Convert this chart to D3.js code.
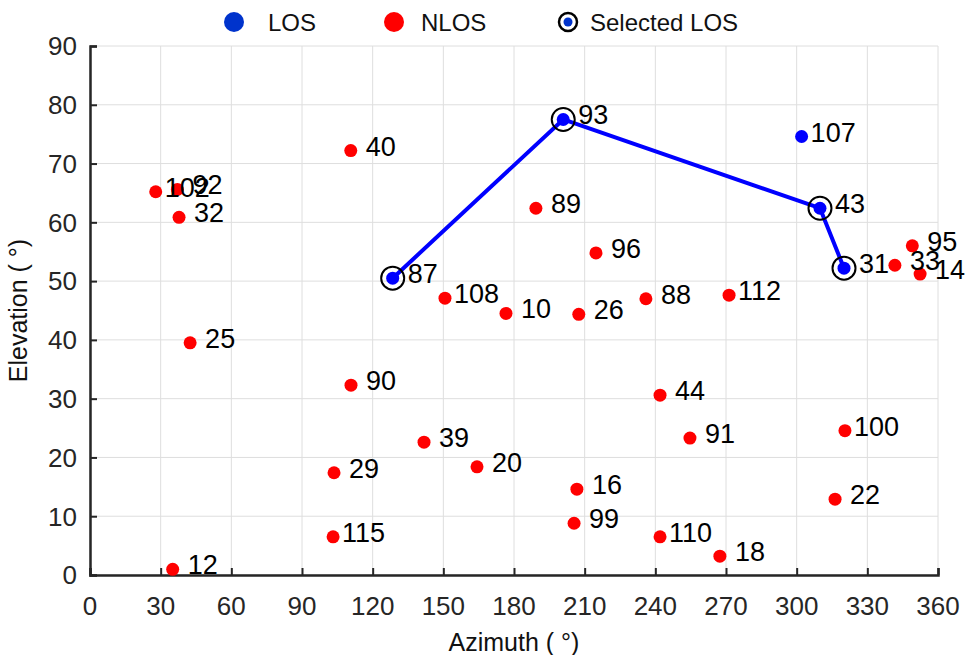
<!DOCTYPE html>
<html>
<head>
<meta charset="utf-8">
<script src="https://cdn.jsdelivr.net/npm/d3@7"></script>
<style>
  html, body { margin: 0; padding: 0; background: #fff; }
  svg { display: block; }
</style>
</head>
<body>
<svg id="chart" width="966" height="655"></svg>
<script>
// Satellite sky positions: azimuth / elevation in degrees
const losIds = [87, 93, 43, 31, 107];
const losAz  = [128.5, 200.9, 309.9, 320.1, 302.1];
const losEl  = [50.5, 77.5, 62.4, 52.2, 74.6];

const nlosIds = [102, 92, 32, 25, 12, 40, 90, 29, 115, 108, 39, 20, 10, 89, 96, 26, 16, 99,
                 88, 44, 91, 110, 18, 112, 100, 22, 33, 95, 14];
const nlosAz  = [27.9, 37.1, 37.8, 42.5, 35.1, 110.7, 110.8, 103.6, 103.2, 150.7, 141.8, 164.3,
                 176.6, 189.3, 214.8, 207.5, 206.7, 205.5, 236.0, 242.0, 254.7, 242.0, 267.4,
                 271.3, 320.5, 316.3, 341.7, 349.1, 352.4];
const nlosEl  = [65.2, 65.6, 60.85, 39.5, 0.97, 72.2, 32.3, 17.4, 6.5, 47.1, 22.6, 18.4,
                 44.5, 62.4, 54.8, 44.35, 14.6, 8.8, 47.0, 30.6, 23.3, 6.5, 3.2,
                 47.6, 24.55, 12.9, 52.7, 56.0, 51.2];

// Selected LOS satellites, in path order
const selectedIds = [87, 93, 43, 31];

const xTicks = d3.range(0, 361, 30);
const yTicks = d3.range(0, 91, 10);

const legendLabels = ["LOS", "NLOS", "Selected LOS"];

const svg = d3.select("#chart");
const x = d3.scaleLinear().domain([0, 360]).range([90, 938]);
const y = d3.scaleLinear().domain([0, 90]).range([575, 46]);

const axisColor = "#262626";
const gridColor = "#dedede";
const tickFont = "Liberation Sans, Arial, sans-serif";

// grid
const grid = svg.append("g");
grid.selectAll("line.vx").data(xTicks).enter().append("line")
  .attr("x1", d => x(d)).attr("x2", d => x(d))
  .attr("y1", y(0)).attr("y2", y(90))
  .attr("stroke", gridColor).attr("stroke-width", 1);
grid.selectAll("line.hy").data(yTicks).enter().append("line")
  .attr("x1", x(0)).attr("x2", x(360))
  .attr("y1", d => y(d)).attr("y2", d => y(d))
  .attr("stroke", gridColor).attr("stroke-width", 1);

// axes (ticks pointing inward)
const xAxis = d3.axisTop(x).tickValues(xTicks).tickSize(7).tickFormat("");
const yAxis = d3.axisRight(y).tickValues(yTicks).tickSize(7).tickFormat("");
const gx = svg.append("g").attr("transform", `translate(0,${y(0)})`).call(xAxis);
const gy = svg.append("g").attr("transform", `translate(${x(0)},0)`).call(yAxis);
[gx, gy].forEach(g => {
  g.selectAll("path.domain").attr("stroke", axisColor).attr("stroke-width", 2.5);
  g.selectAll(".tick line").attr("stroke", axisColor).attr("stroke-width", 2);
});

// tick labels
svg.append("g").selectAll("text").data(xTicks).enter().append("text")
  .attr("x", d => x(d)).attr("y", 615)
  .attr("text-anchor", "middle")
  .attr("font-family", tickFont).attr("font-size", 26).attr("fill", axisColor)
  .text(d => d);
svg.append("g").selectAll("text").data(yTicks).enter().append("text")
  .attr("x", 77).attr("y", d => y(d))
  .attr("dy", "0.36em")
  .attr("text-anchor", "end")
  .attr("font-family", tickFont).attr("font-size", 26).attr("fill", axisColor)
  .text(d => d);

// axis titles
svg.append("text")
  .attr("x", (x(0) + x(360)) / 2).attr("y", 651)
  .attr("text-anchor", "middle")
  .attr("font-family", tickFont).attr("font-size", 25).attr("fill", "#111")
  .text("Azimuth ( °)");
svg.append("text")
  .attr("transform", `translate(27,${(y(0) + y(90)) / 2}) rotate(-90)`)
  .attr("text-anchor", "middle")
  .attr("font-family", tickFont).attr("font-size", 25).attr("fill", "#111")
  .text("Elevation ( °)");

// build point records
const los = losIds.map((id, i) => ({ id, az: losAz[i], el: losEl[i] }));
const nlos = nlosIds.map((id, i) => ({ id, az: nlosAz[i], el: nlosEl[i] }));
const byId = new Map(los.map(d => [d.id, d]));
const selected = selectedIds.map(id => byId.get(id));

// path through selected LOS satellites
svg.append("path")
  .datum(selected)
  .attr("d", d3.line().x(d => x(d.az)).y(d => y(d.el)))
  .attr("fill", "none").attr("stroke", "#0000ff").attr("stroke-width", 4)
  .attr("stroke-linejoin", "round");

// selection rings
svg.append("g").selectAll("circle").data(selected).enter().append("circle")
  .attr("cx", d => x(d.az)).attr("cy", d => y(d.el)).attr("r", 11.5)
  .attr("fill", "none").attr("stroke", "#000").attr("stroke-width", 2);

// markers
svg.append("g").selectAll("circle").data(nlos).enter().append("circle")
  .attr("cx", d => x(d.az)).attr("cy", d => y(d.el)).attr("r", 6.5)
  .attr("fill", "#ff0000");
svg.append("g").selectAll("circle").data(los).enter().append("circle")
  .attr("cx", d => x(d.az)).attr("cy", d => y(d.el)).attr("r", 6.5)
  .attr("fill", "#0000ff");

// satellite ID labels
const labelOffset = id => (String(id).length >= 3 ? 9 : 15);
svg.append("g").selectAll("text").data(nlos.concat(los)).enter().append("text")
  .attr("x", d => x(d.az) + labelOffset(d.id))
  .attr("y", d => y(d.el) + 5)
  .attr("font-family", tickFont).attr("font-size", 27).attr("fill", "#000")
  .text(d => d.id);

// legend
const legend = svg.append("g");
const legendItems = [
  { label: legendLabels[0], mx: 234, tx: 268 },
  { label: legendLabels[1], mx: 394, tx: 421 },
  { label: legendLabels[2], mx: 568, tx: 590 }
];
legend.append("circle").attr("cx", legendItems[0].mx).attr("cy", 22).attr("r", 10).attr("fill", "#0033cc");
legend.append("circle").attr("cx", legendItems[1].mx).attr("cy", 22).attr("r", 10).attr("fill", "#ff0000");
legend.append("circle").attr("cx", legendItems[2].mx).attr("cy", 22).attr("r", 9).attr("fill", "none")
  .attr("stroke", "#000").attr("stroke-width", 2.5);
legend.append("circle").attr("cx", legendItems[2].mx).attr("cy", 22).attr("r", 4.5).attr("fill", "#0033cc");
legend.selectAll("text").data(legendItems).enter().append("text")
  .attr("x", d => d.tx).attr("y", 31)
  .attr("font-family", tickFont).attr("font-size", 24).attr("fill", "#111")
  .text(d => d.label);
</script>
</body>
</html>
